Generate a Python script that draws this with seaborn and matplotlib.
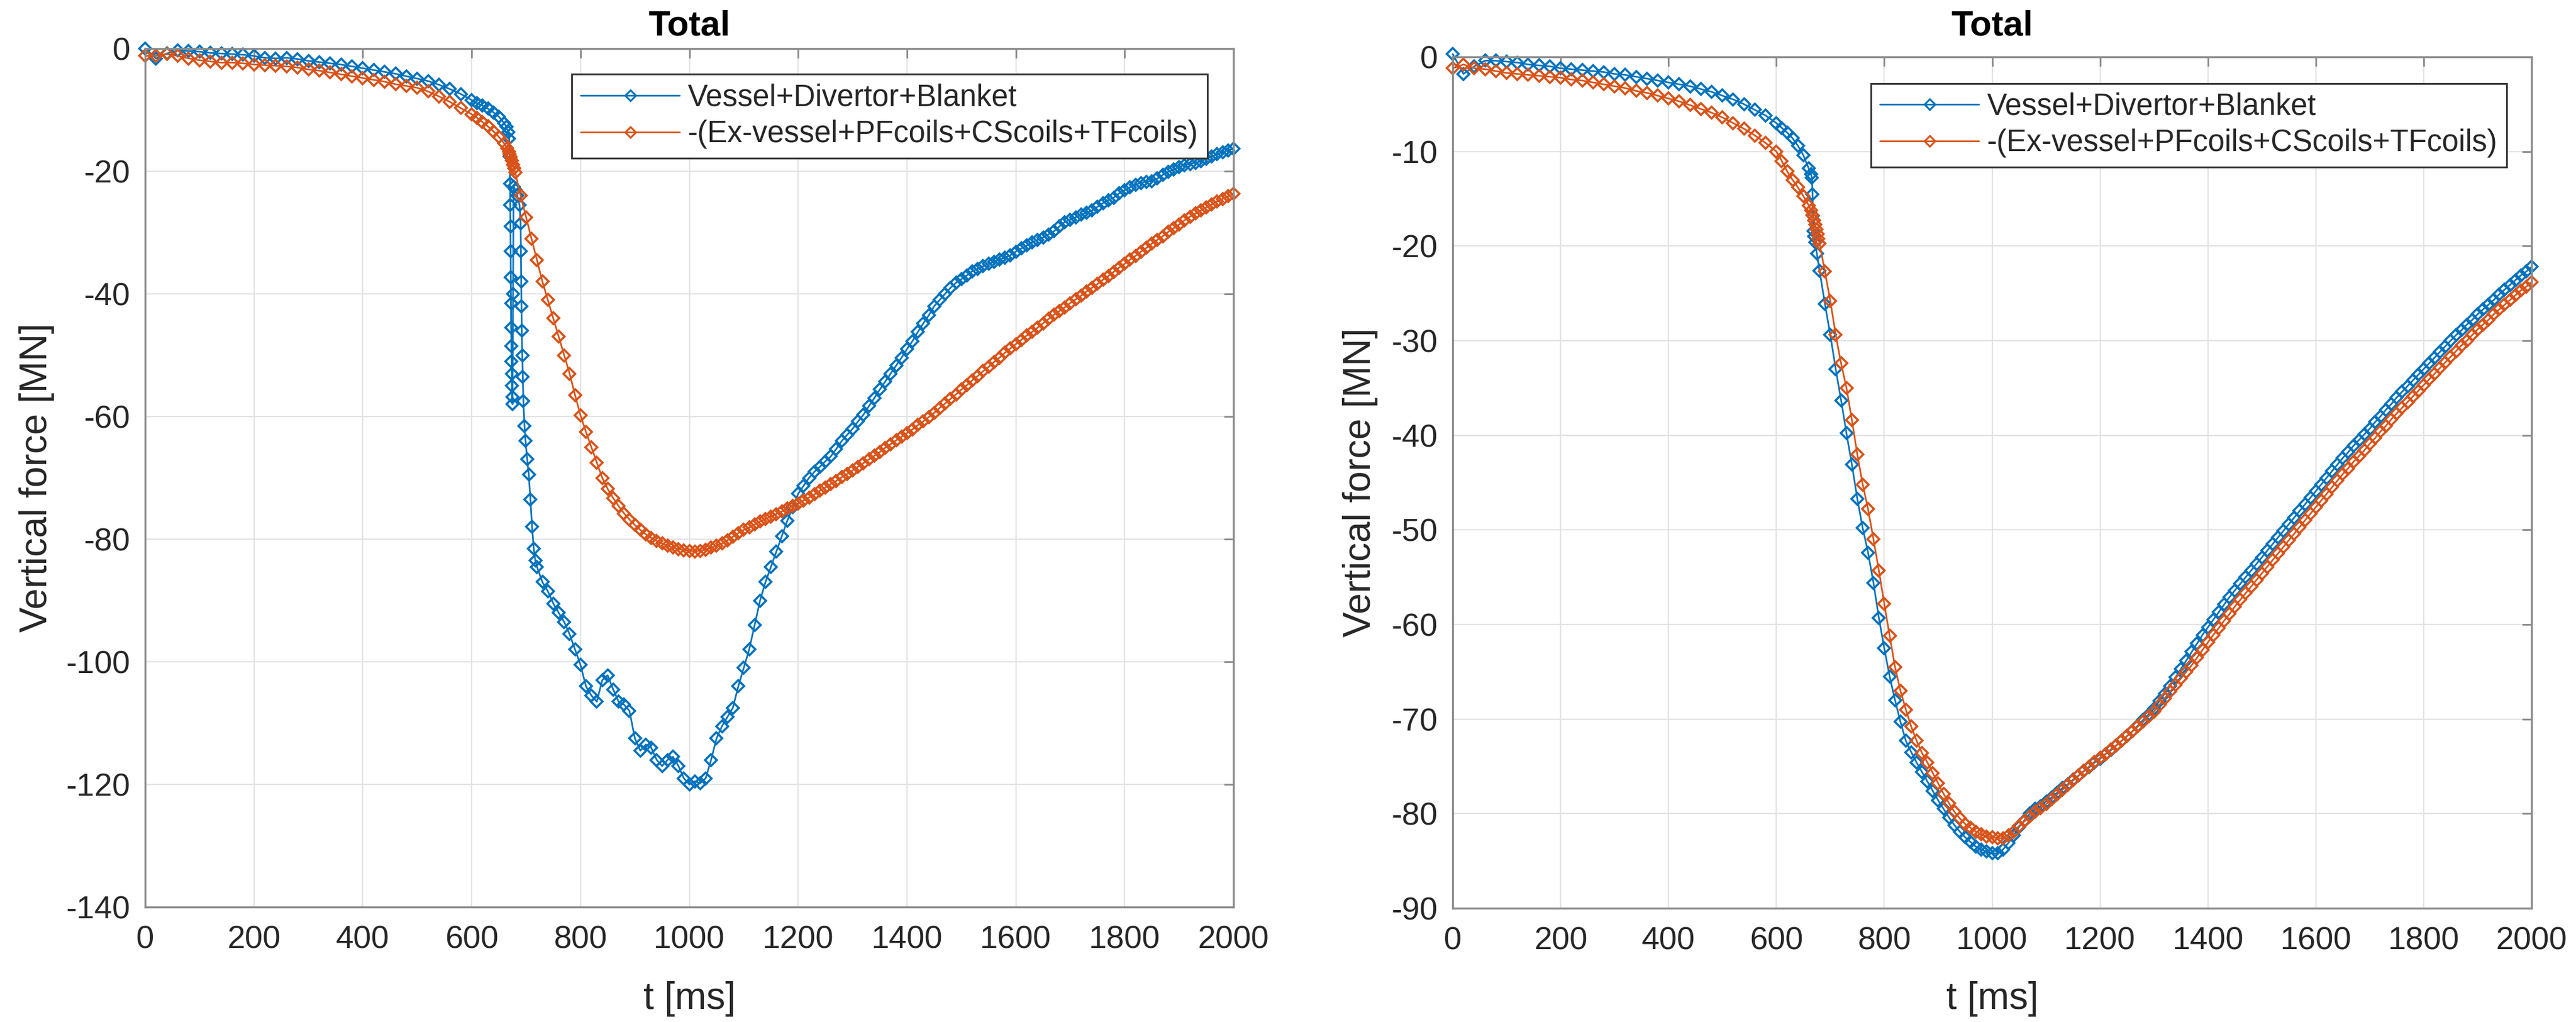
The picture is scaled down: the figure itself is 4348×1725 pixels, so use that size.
import numpy as np
import matplotlib
matplotlib.use("Agg")
import matplotlib.pyplot as plt
import seaborn as sns
from matplotlib.lines import Line2D

sns.set_style("white")
plt.rcParams["font.family"] = ["Liberation Sans", "DejaVu Sans"]
plt.rcParams["axes.unicode_minus"] = False

# ---------------- data ----------------
SERIES_LABELS = ["Vessel+Divertor+Blanket", "-(Ex-vessel+PFcoils+CScoils+TFcoils)"]
PANEL_TITLES = ["Total", "Total"]

T_EARLY = np.arange(0, 600, 20)      # 0..580 ms
T_MID = np.arange(600, 661, 10)      # 600..660 ms

# ---- left panel, blue ----
LB_EARLY = [0.0, -1.6, -0.8, -0.3, -0.4, -0.5, -0.7, -0.8, -0.9, -1.0,
            -1.2, -1.5, -1.6, -1.5, -1.7, -2.0, -2.2, -2.4, -2.6, -2.9,
            -3.2, -3.5, -3.8, -4.1, -4.5, -4.9, -5.3, -5.9, -6.6, -7.4]
LB_MID = [-8.4, -8.9, -9.3, -9.8, -10.4, -11.1, -12.2]
LB_SPIKE_T = [664, 667, 669, 670, 670.5, 671, 671.3, 671.6, 672, 672.3,
              672.6, 673, 673.3, 673.6, 674, 674.5, 675, 676, 677, 680,
              684, 688, 690, 690.5, 691, 691.5, 692, 693, 694, 695,
              697, 699, 702, 705, 708, 711, 714, 717]
LB_SPIKE_V = [-12.8, -13.6, -14.7, -17.6, -22.0, -25.5, -29.0, -33.0, -37.3, -41.5,
              -45.5, -48.5, -51.0, -53.0, -55.0, -56.8, -58.0, -40.0, -22.5, -23.0,
              -24.0, -25.5, -28.5, -33.0, -38.0, -42.0, -46.0, -50.0, -53.5, -57.5,
              -61.5, -64.0, -67.0, -69.5, -73.5, -78.0, -81.5, -83.5]
LB_LATE_T = np.arange(720, 2001, 10)
LB_LATE = [-84.5, -87.0, -88.5, -90.5, -92.0, -93.5, -95.5, -98.0, -100.5, -104.0,
           -105.5, -106.5, -103.0, -102.2, -104.5, -106.5, -107.0, -108.0, -112.5, -114.5,
           -113.5, -114.0, -116.0, -117.0, -116.0, -115.5, -117.0, -119.0, -120.0, -119.5,
           -119.8, -119.0, -116.0, -112.5, -110.5, -109.0, -107.5, -104.0, -101.0, -98.0,
           -94.0, -90.0, -87.0, -84.5, -82.0, -79.5, -77.0, -74.8, -72.6, -71.3,
           -70.0, -69.0, -68.2, -67.3, -66.5, -65.3, -64.0, -63.0, -62.0, -60.8,
           -59.7, -58.3, -57.0, -55.6, -54.3, -53.0, -51.7, -50.4, -49.0, -47.7,
           -46.2, -44.8, -43.5, -42.0, -41.0, -40.0, -39.0, -38.2, -37.6, -37.0,
           -36.3, -35.9, -35.5, -35.1, -34.8, -34.4, -34.1, -33.7, -33.1, -32.6,
           -32.1, -31.6, -31.2, -30.8, -30.3, -29.8, -29.0, -28.3, -27.9, -27.5,
           -27.1, -26.8, -26.4, -25.8, -25.2, -24.7, -24.3, -23.6, -23.1, -22.6,
           -22.2, -21.9, -21.7, -21.6, -21.2, -20.6, -20.1, -19.7, -19.3, -19.0,
           -18.8, -18.6, -18.4, -18.0, -17.6, -17.2, -16.9, -16.6, -16.3]

# ---- left panel, orange ----
LO_EARLY = [-1.2, -1.2, -0.9, -1.2, -1.6, -1.9, -2.1, -2.3, -2.3, -2.4,
            -2.6, -2.7, -2.8, -2.9, -3.1, -3.4, -3.6, -3.9, -4.2, -4.5,
            -4.8, -5.1, -5.4, -5.8, -6.1, -6.4, -7.0, -7.8, -8.7, -9.7]
LO_MID = [-10.7, -11.3, -12.0, -12.7, -13.5, -14.4, -15.5]
LO_CL_T = [665, 668, 670, 672, 674, 676, 678]
LO_CL_V = [-16.2, -16.8, -17.2, -17.7, -18.3, -18.9, -19.5]
LO_LATE_T = np.arange(680, 2001, 10)
LO_LATE = [-20.2, -24.0, -27.5, -31.0, -34.5, -38.0, -41.0, -44.0, -47.0, -50.0,
           -53.0, -56.5, -59.8, -62.5, -65.0, -67.5, -70.0, -71.8, -73.3, -74.6,
           -75.8, -76.8, -77.7, -78.5, -79.2, -79.8, -80.3, -80.7, -81.1, -81.4,
           -81.6, -81.8, -81.9, -82.0, -81.9, -81.7, -81.4, -81.1, -80.7, -80.2,
           -79.6, -79.0, -78.5, -78.1, -77.6, -77.1, -76.7, -76.3, -75.9, -75.5,
           -75.0, -74.6, -74.2, -73.7, -73.2, -72.7, -72.1, -71.6, -71.0, -70.5,
           -69.9, -69.4, -68.8, -68.2, -67.6, -67.0, -66.4, -65.8, -65.1, -64.5,
           -63.9, -63.3, -62.7, -62.1, -61.4, -60.8, -60.1, -59.4, -58.6, -57.9,
           -57.1, -56.4, -55.6, -54.9, -54.1, -53.4, -52.6, -51.9, -51.1, -50.4,
           -49.6, -48.9, -48.2, -47.5, -46.8, -46.2, -45.5, -44.8, -44.1, -43.4,
           -42.8, -42.2, -41.5, -40.9, -40.3, -39.6, -39.0, -38.4, -37.7, -37.1,
           -36.4, -35.7, -35.1, -34.4, -33.8, -33.1, -32.5, -31.8, -31.2, -30.6,
           -29.9, -29.3, -28.7, -28.0, -27.4, -26.9, -26.4, -25.9, -25.4, -24.9,
           -24.5, -24.1, -23.7]

# ---- right panel, blue ----
RB_EARLY = [0.3, -1.8, -1.0, -0.4, -0.4, -0.5, -0.6, -0.8, -0.9, -1.0,
            -1.2, -1.3, -1.4, -1.5, -1.6, -1.8, -1.9, -2.1, -2.3, -2.5,
            -2.7, -2.9, -3.1, -3.4, -3.7, -4.1, -4.5, -5.0, -5.6, -6.2]
RB_MID = [-7.0, -7.5, -8.0, -8.6, -9.4, -10.4, -11.8]
RB_SP_T = [664, 666, 667, 668, 669, 670, 672, 675]
RB_SP_V = [-12.4, -12.8, -14.5, -16.8, -18.4, -19.0, -19.6, -20.8]
RB_LATE_T = np.arange(680, 2001, 10)
RB_LATE = [-22.6, -26.1, -29.4, -33.0, -36.3, -39.8, -43.1, -46.7, -49.8, -52.4,
           -55.6, -59.3, -62.5, -65.5, -68.0, -70.3, -72.3, -73.5, -74.6, -75.6,
           -76.6, -77.6, -78.6, -79.5, -80.4, -81.2, -81.9, -82.5, -83.0, -83.5,
           -83.8, -84.0, -84.2, -84.2, -83.8, -83.1, -82.3, -81.4, -80.7, -80.0,
           -79.5, -79.2, -78.7, -78.3, -77.8, -77.3, -76.9, -76.4, -76.0, -75.5,
           -75.1, -74.6, -74.2, -73.7, -73.3, -72.8, -72.3, -71.8, -71.3, -70.7,
           -70.1, -69.5, -68.9, -68.1, -67.3, -66.5, -65.6, -64.7, -63.8, -62.9,
           -62.0, -61.1, -60.3, -59.5, -58.7, -57.9, -57.1, -56.4, -55.7, -55.0,
           -54.3, -53.6, -52.9, -52.2, -51.5, -50.8, -50.1, -49.4, -48.7, -48.0,
           -47.3, -46.6, -45.9, -45.2, -44.5, -43.8, -43.1, -42.4, -41.8, -41.1,
           -40.5, -39.9, -39.3, -38.6, -38.0, -37.3, -36.7, -36.0, -35.4, -34.8,
           -34.2, -33.6, -33.0, -32.4, -31.8, -31.2, -30.6, -30.0, -29.4, -28.9,
           -28.3, -27.8, -27.2, -26.7, -26.2, -25.7, -25.1, -24.6, -24.1, -23.6,
           -23.1, -22.7, -22.2]

# ---- right panel, orange ----
RO_EARLY = [-1.2, -0.8, -1.2, -1.3, -1.5, -1.7, -1.8, -1.9, -2.0, -2.1,
            -2.2, -2.4, -2.5, -2.7, -2.9, -3.1, -3.3, -3.6, -3.8, -4.1,
            -4.4, -4.7, -5.1, -5.5, -5.9, -6.4, -7.0, -7.6, -8.3, -9.1]
RO_MID = [-10.0, -11.0, -12.1, -13.0, -13.8, -14.7, -15.7]
RO_CL_T = [664, 667, 670, 672, 674, 676, 678]
RO_CL_V = [-16.2, -16.7, -17.3, -17.7, -18.2, -18.7, -19.2]
RO_LATE_T = np.arange(680, 2001, 10)
RO_LATE = [-19.7, -22.7, -25.8, -29.4, -32.4, -35.0, -38.4, -42.0, -45.2, -47.8,
           -51.0, -54.3, -57.8, -61.2, -64.5, -67.0, -69.0, -70.8, -72.3, -73.6,
           -74.6, -75.7, -76.8, -77.9, -78.9, -79.8, -80.5, -81.1, -81.5, -81.9,
           -82.2, -82.4, -82.5, -82.6, -82.6, -82.3, -81.9, -81.3, -80.8, -80.3,
           -79.8, -79.4, -79.0, -78.5, -78.0, -77.5, -77.0, -76.5, -76.0, -75.5,
           -75.0, -74.5, -74.1, -73.7, -73.2, -72.8, -72.3, -71.8, -71.3, -70.8,
           -70.3, -69.7, -69.2, -68.5, -67.8, -67.1, -66.4, -65.7, -65.0, -64.3,
           -63.5, -62.7, -61.9, -61.1, -60.4, -59.6, -58.9, -58.1, -57.4, -56.7,
           -56.0, -55.3, -54.6, -53.9, -53.2, -52.5, -51.8, -51.1, -50.4, -49.7,
           -49.0, -48.3, -47.6, -46.9, -46.2, -45.5, -44.8, -44.1, -43.5, -42.8,
           -42.2, -41.6, -40.9, -40.3, -39.6, -39.0, -38.3, -37.7, -37.1, -36.5,
           -35.9, -35.3, -34.7, -34.1, -33.5, -32.9, -32.3, -31.7, -31.1, -30.5,
           -30.0, -29.4, -28.8, -28.3, -27.8, -27.2, -26.7, -26.2, -25.7, -25.2,
           -24.7, -24.3, -23.8]

X_TICKS = list(range(0, 2001, 200))
Y_TICKS_LEFT = list(range(-140, 1, 20))
Y_TICKS_RIGHT = list(range(-90, 1, 10))

# ---------------- assemble ----------------
lb_t = np.concatenate([T_EARLY, T_MID, LB_SPIKE_T, LB_LATE_T])
lb_v = np.concatenate([LB_EARLY, LB_MID, LB_SPIKE_V, LB_LATE])
lo_t = np.concatenate([T_EARLY, T_MID, LO_CL_T, LO_LATE_T])
lo_v = np.concatenate([LO_EARLY, LO_MID, LO_CL_V, LO_LATE])
rb_t = np.concatenate([T_EARLY, T_MID, RB_SP_T, RB_LATE_T])
rb_v = np.concatenate([RB_EARLY, RB_MID, RB_SP_V, RB_LATE])
ro_t = np.concatenate([T_EARLY, T_MID, RO_CL_T, RO_LATE_T])
ro_v = np.concatenate([RO_EARLY, RO_MID, RO_CL_V, RO_LATE])

BLUE = "#0072BD"
ORANGE = "#D95319"
SPINE = "#8a8a8a"
TXT = "#262626"
LW = 2.0
MS = 10
MEW = 2.6
MARK = "D"

fig = plt.figure(figsize=(43.48, 17.25), dpi=100)
axL = fig.add_axes([0.05635, 0.11246, 0.42249, 0.84])
axR = fig.add_axes([0.56394, 0.11130, 0.41881, 0.83304])


def draw(ax, t, v, color):
    sns.lineplot(x=t, y=v, ax=ax, color=color, sort=False, estimator=None,
                 linewidth=LW, marker=MARK, markersize=MS,
                 markerfacecolor="none", markeredgecolor=color,
                 markeredgewidth=MEW, clip_on=False, legend=False)


draw(axL, lb_t, lb_v, BLUE)
draw(axL, lo_t, lo_v, ORANGE)
draw(axR, rb_t, rb_v, BLUE)
draw(axR, ro_t, ro_v, ORANGE)

handles = [Line2D([], [], color=c, linewidth=LW, marker=MARK, markersize=MS - 1,
                  markerfacecolor="none", markeredgecolor=c, markeredgewidth=MEW - 0.4)
           for c in (BLUE, ORANGE)]

for ax, yt, title, tpad, anchor, xly, yl in (
        (axL, Y_TICKS_LEFT, PANEL_TITLES[0], 16, (0.976, 0.970), -0.107, -0.0996),
        (axR, Y_TICKS_RIGHT, PANEL_TITLES[1], 26, (0.977, 0.969), -0.1065, -0.0857)):
    ax.set_xlim(0, 2000)
    ax.set_ylim(yt[0], yt[-1])
    ax.set_xticks(X_TICKS)
    ax.set_yticks(yt)
    ax.grid(True, color="#e3e3e3", linewidth=1.6)
    ax.set_axisbelow(True)
    ax.tick_params(direction="in", top=True, right=True, length=11.5, width=2.0,
                   color=SPINE, labelsize=39, labelcolor=TXT)
    ax.tick_params(axis="x", pad=22)
    ax.tick_params(axis="y", pad=18)
    for s in ax.spines.values():
        s.set_color(SPINE)
        s.set_linewidth(2.4)
        s.set_visible(True)
    ax.set_xlabel("t [ms]", fontsize=46, color=TXT)
    ax.xaxis.label.set_va("center")
    ax.xaxis.set_label_coords(0.5, xly)
    ax.set_ylabel("Vertical force [MN]", fontsize=46, color=TXT)
    ax.yaxis.label.set_va("center")
    ax.yaxis.set_label_coords(yl, 0.5)
    ax.set_title(title, fontsize=43, fontweight="bold", pad=tpad, color="black")
    leg = ax.legend(handles, SERIES_LABELS, loc="upper right", bbox_to_anchor=anchor,
                    borderaxespad=0, fontsize=36.5, frameon=True, fancybox=False,
                    edgecolor="#3a3a3a", facecolor="white", framealpha=1,
                    handlelength=3.3, handletextpad=0.27, borderpad=0.3,
                    labelspacing=0.25, numpoints=1)
    leg.get_frame().set_linewidth(2.2)

fig.savefig("out.png", dpi=100)
